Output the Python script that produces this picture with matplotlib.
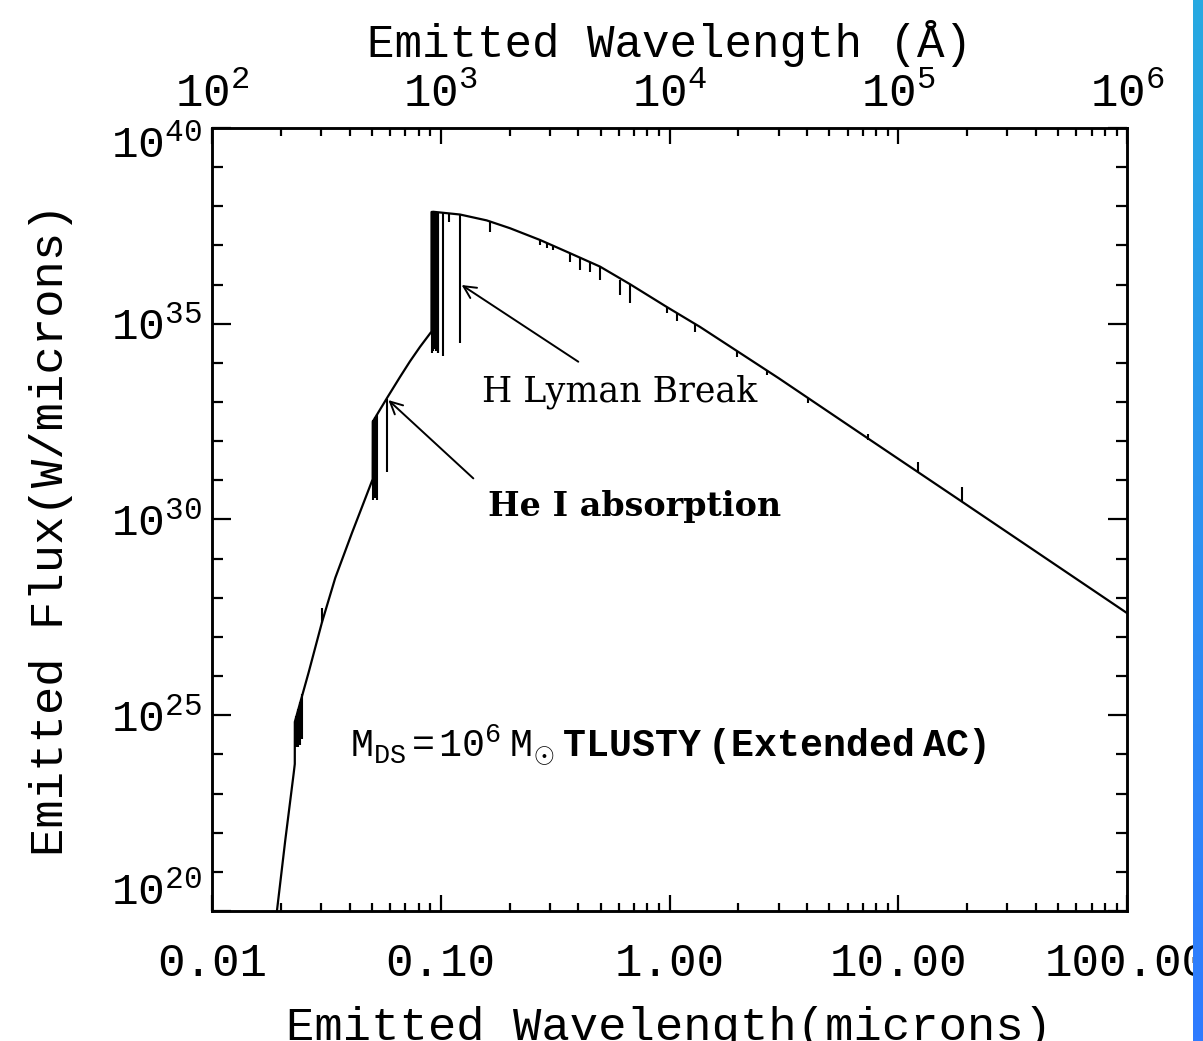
import numpy as np
import matplotlib
matplotlib.use("Agg")
import matplotlib.pyplot as plt
from matplotlib.ticker import FixedLocator, FuncFormatter, NullFormatter, FixedFormatter
from matplotlib.colors import LinearSegmentedColormap
from matplotlib.transforms import ScaledTranslation

# ---------------- data ----------------
# continuum: wavelength (microns) and log10 of emitted flux (W/micron)
cont_wave = [0.01895, 0.02091, 0.02276, 0.02301, 0.02302, 0.02647, 0.03027,
             0.03459, 0.04093, 0.04526, 0.05040, 0.05045, 0.05803, 0.06635,
             0.07337, 0.08116, 0.09110, 0.09115, 0.09278, 0.1214, 0.1588,
             0.2008, 0.2716, 0.3552, 0.4968, 0.6720, 0.9722, 1.359, 3.0,
             7.375, 18.94, 100.0]
cont_logflux = [19.69, 21.81, 23.52, 23.755, 24.83, 26.10, 27.38,
                28.51, 29.66, 30.32, 31.03, 32.50, 33.09, 33.64,
                34.04, 34.41, 34.80, 37.855, 37.86, 37.79, 37.64,
                37.44, 37.14, 36.84, 36.46, 36.01, 35.43, 34.92, 33.61,
                32.07, 30.46, 27.61]

# spectral line features: wavelength, log10 flux at both ends of the line
line_wave = [0.02340, 0.02388, 0.02436, 0.02486, 0.03027,
             0.0506, 0.0515, 0.0526, 0.05803,
             0.09157, 0.0922, 0.0930, 0.0938, 0.0945, 0.0952, 0.0960, 0.0968, 0.0973,
             0.1026, 0.1087, 0.1216,
             0.1642, 0.2716, 0.2900, 0.3105, 0.3673, 0.4062, 0.4493, 0.4968,
             0.6074, 0.6720, 0.9722, 1.075, 1.293, 1.967, 2.660, 4.044,
             7.394, 12.24, 18.94]
line_log_a = [24.97, 25.16, 25.35, 25.54, 27.75,
              32.55, 32.62, 32.70, 33.09,
              37.85, 37.86, 37.86, 37.86, 37.86, 37.86, 37.85, 37.85, 37.85,
              37.84, 37.83, 37.78,
              37.60, 37.14, 37.07, 36.99, 36.81, 36.71, 36.59, 36.46,
              36.12, 36.01, 35.43, 35.28, 35.00, 34.31, 33.81, 33.10,
              32.18, 31.48, 30.82]
line_log_b = [24.19, 24.19, 24.24, 24.39, 27.35,
              30.50, 30.55, 30.50, 31.22,
              34.25, 34.30, 34.35, 34.40, 34.35, 34.30, 34.30, 34.25, 34.25,
              34.18, 37.60, 34.51,
              37.34, 37.01, 36.93, 36.88, 36.58, 36.37, 36.33, 36.12,
              35.73, 35.52, 35.27, 35.06, 34.80, 34.16, 33.70, 32.98,
              32.04, 31.21, 30.46]

y_major = [1e20, 1e25, 1e30, 1e35, 1e40]
y_minor = [10.0 ** k for k in range(20, 41) if k % 5 != 0]
x_major = [0.01, 0.1, 1.0, 10.0, 100.0]
x_major_labels = ["0.01", "0.10", "1.00", "10.00", "100.00"]
top_major = [1e2, 1e3, 1e4, 1e5, 1e6]
micron_to_angstrom = 1e4

# ---------------- style ----------------
plt.rcParams["mathtext.fontset"] = "custom"
plt.rcParams["mathtext.rm"] = "Liberation Mono"
plt.rcParams["mathtext.it"] = "Liberation Mono:italic"
plt.rcParams["mathtext.bf"] = "Liberation Mono:bold"
plt.rcParams["font.family"] = ["Liberation Mono", "DejaVu Sans"]

W, H = 1203, 1041
fig = plt.figure(figsize=(W / 100, H / 100), dpi=100)
fig.patch.set_facecolor("white")
ax_l, ax_r, ax_t, ax_b = 212, 1127, 128, 911
ax = fig.add_axes([ax_l / W, (H - ax_b) / H, (ax_r - ax_l) / W, (ax_b - ax_t) / H])

flux = 10.0 ** np.array(cont_logflux)
ax.plot(cont_wave, flux, color="black", lw=1.6, solid_joinstyle="round", zorder=3)
ax.vlines(line_wave, 10.0 ** np.array(line_log_a), 10.0 ** np.array(line_log_b),
          color="black", lw=1.5, zorder=3)

ax.set_xscale("log")
ax.set_yscale("log")
ax.set_xlim(0.01, 100.0)
ax.set_ylim(1e20, 1e40)

ax.xaxis.set_major_locator(FixedLocator(x_major))
ax.xaxis.set_major_formatter(FixedFormatter(x_major_labels))
x_minor = [m * d for d in [0.01, 0.1, 1, 10] for m in range(2, 10)]
ax.xaxis.set_minor_locator(FixedLocator(x_minor))
ax.xaxis.set_minor_formatter(NullFormatter())
ax.yaxis.set_major_locator(FixedLocator(y_major))
ax.yaxis.set_minor_locator(FixedLocator(y_minor))
ax.yaxis.set_major_formatter(FuncFormatter(lambda v, p: r"$\mathrm{10^{%d}}$" % round(np.log10(v))))
ax.yaxis.set_minor_formatter(NullFormatter())

for s in ax.spines.values():
    s.set_linewidth(1.8)

ax.tick_params(axis="x", which="major", direction="in", length=11.5, width=1.6,
               top=False, bottom=True, labelsize=33, pad=22)
ax.tick_params(axis="x", which="minor", direction="in", length=5.8, width=1.6,
               top=False, bottom=True)
ax.tick_params(axis="y", which="major", direction="in", length=13.7, width=1.6,
               left=True, right=True, labelsize=32, pad=7)
ax.tick_params(axis="y", which="minor", direction="in", length=8, width=1.6,
               left=True, right=True)

# top axis in Angstrom
ax2 = ax.twiny()
ax2.set_xscale("log")
ax2.set_xlim(0.01 * micron_to_angstrom, 100.0 * micron_to_angstrom)
ax2.xaxis.set_major_locator(FixedLocator(top_major))
ax2.xaxis.set_major_formatter(FuncFormatter(lambda v, p: r"$\mathrm{10^{%d}}$" % round(np.log10(v))))
top_minor = [m * d for d in [1e2, 1e3, 1e4, 1e5] for m in range(2, 10)]
ax2.xaxis.set_minor_locator(FixedLocator(top_minor))
ax2.xaxis.set_minor_formatter(NullFormatter())
ax2.tick_params(axis="x", which="major", direction="in", length=11.5, width=1.6,
                top=True, bottom=False, labelsize=33, pad=8)
ax2.tick_params(axis="x", which="minor", direction="in", length=5.8, width=1.6,
                top=True, bottom=False)
for s in ax2.spines.values():
    s.set_linewidth(1.8)

# nudge the end y tick labels inward like the original
yt = ax.yaxis.get_major_ticks()
yt[0].label1.set_transform(yt[0].label1.get_transform() +
                           ScaledTranslation(0, 0.22, fig.dpi_scale_trans))
yt[-1].label1.set_transform(yt[-1].label1.get_transform() +
                            ScaledTranslation(0, -0.14, fig.dpi_scale_trans))

# axis titles
fig.text(669.5 / W, (H - 57) / H, "Emitted Wavelength (Å)", fontsize=33,
         ha="center", va="baseline")
fig.text(669.5 / W, (H - 1040) / H, "Emitted Wavelength(microns)", fontsize=34,
         ha="center", va="baseline")
fig.text(63 / W, (H - 530) / H, "Emitted Flux(W/microns)", fontsize=34,
         ha="center", va="baseline", rotation=90, rotation_mode="anchor")

# annotations
arrow_kw = dict(arrowstyle="->", lw=1.4, color="black", mutation_scale=22,
                shrinkA=0, shrinkB=0)
ax.annotate("", xy=(0.1234, 10 ** 35.99), xytext=(0.3993, 10 ** 34.03),
            arrowprops=arrow_kw, zorder=4)
ax.annotate("", xy=(0.05902, 10 ** 33.05), xytext=(0.1388, 10 ** 31.05),
            arrowprops=arrow_kw, zorder=4)
ax.text(0.1510, 10 ** 33.26, "H Lyman Break", family="DejaVu Serif", fontsize=25,
        ha="left", va="center")
ax.text(0.1609, 10 ** 30.32, "He I absorption", family="DejaVu Serif",
        fontweight="bold", fontsize=24, ha="left", va="center")
ax.text(0.04012, 10 ** 24.24,
        r"$\mathrm{M_{DS}{=}10^{6}\ M_{\odot}}\ \mathbf{TLUSTY\ (Extended\ AC)}$",
        fontsize=27.5, ha="left", va="center")

# blue strip at the right edge
bar = fig.add_axes([1193 / W, 0, 10 / W, 1])
grad = np.linspace(0, 1, 256).reshape(-1, 1)
cmap = LinearSegmentedColormap.from_list("strip", ["#27A9E1", "#2F7BFF"])
bar.imshow(grad, aspect="auto", cmap=cmap, extent=[0, 1, 1, 0])
bar.axis("off")

fig.savefig("out.png", dpi=100)
